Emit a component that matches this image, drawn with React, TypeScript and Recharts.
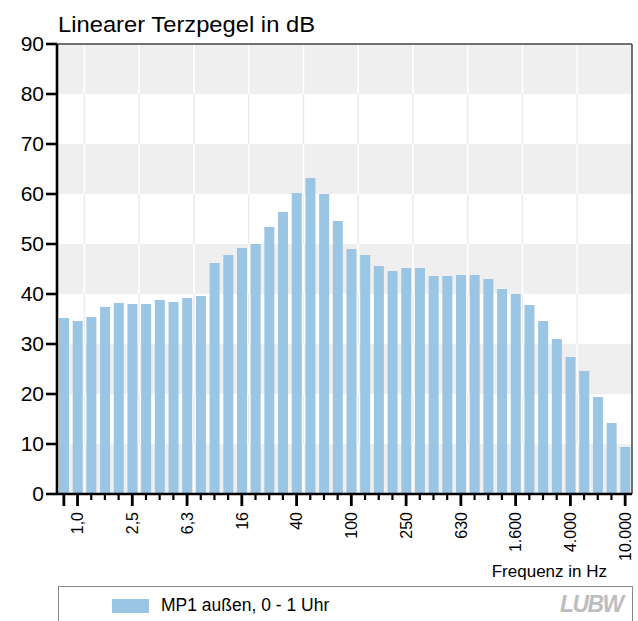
import React from 'react';
import { BarChart, Bar, XAxis, YAxis, ReferenceArea, ReferenceLine, Legend, Customized } from 'recharts';

const bands = [
  '0,8', '1,0', '1,25', '1,6', '2,0', '2,5', '3,15', '4,0', '5,0', '6,3', '8,0',
  '10', '12,5', '16', '20', '25', '31,5', '40', '50', '63', '80',
  '100', '125', '160', '200', '250', '315', '400', '500', '630', '800',
  '1.000', '1.250', '1.600', '2.000', '2.500', '3.150', '4.000', '5.000', '6.300', '8.000', '10.000',
];
const levels = [
  35.2, 34.6, 35.4, 37.4, 38.2, 38.0, 38.0, 38.8, 38.4, 39.2, 39.6,
  46.2, 47.8, 49.2, 50.0, 53.4, 56.4, 60.2, 63.2, 60.0, 54.6,
  49.0, 47.8, 45.6, 44.6, 45.2, 45.2, 43.6, 43.6, 43.8, 43.8,
  43.0, 41.0, 40.0, 37.8, 34.6, 31.0, 27.4, 24.6, 19.4, 14.2, 9.4,
];
const tickLabels = ['1,0', '2,5', '6,3', '16', '40', '100', '250', '630', '1.600', '4.000', '10.000'];
const yTicks = [0, 10, 20, 30, 40, 50, 60, 70, 80, 90];
const grayBands = [[0, 10], [20, 30], [40, 50], [60, 70], [80, 90]];
const whiteBands = [[10, 20], [30, 40], [50, 60], [70, 80]];
const seriesName = 'MP1 außen, 0 - 1 Uhr';
const title = 'Linearer Terzpegel in dB';
const xTitle = 'Frequenz in Hz';

const data = bands.map((b, i) => ({ i, band: b, level: levels[i] }));
const idx = bands.map((_, i) => i);
const labeledIdx = bands.map((b, i) => (tickLabels.includes(b) ? i : -1)).filter((i) => i >= 0);
const gridX = labeledIdx.slice(0, -1).map((i) => i + 0.5);
const lastX = bands.length - 0.5;

const FONT = '"Liberation Sans", Arial, sans-serif';
const BAR = '#9bc5e4';

const XTick = (props: any) => {
  const { x, y, payload } = props;
  const i = payload.value;
  const label = bands[i];
  const labeled = tickLabels.includes(label);
  const major = i === 0 || labeled;
  const ty = y + 18;
  return (
    <g>
      <line x1={x} x2={x} y1={y} y2={y + (major ? 12 : 6)} stroke="#000" strokeWidth={major ? 2.8 : 2.2} />
      {labeled && (
        <text x={x} y={ty} transform={`rotate(-90 ${x} ${ty})`} textAnchor="end" dy="0.36em"
          fontSize={16} fontFamily={FONT} fill="#000">{label}</text>
      )}
    </g>
  );
};

const LegendBox = (props: any) => {
  const p = (props.payload && props.payload[0]) || { value: seriesName, color: BAR };
  return (
    <div style={{ position: 'relative', width: 575, height: 45, border: '1px solid #8a8a8a', boxSizing: 'border-box', background: '#fff', fontFamily: FONT }}>
      <div style={{ position: 'absolute', left: 53, top: 12, width: 37, height: 14, background: p.color || BAR }} />
      <div style={{ position: 'absolute', left: 102, top: 8, fontSize: 17.5, lineHeight: '20px', color: '#000', whiteSpace: 'nowrap' }}>{p.value}</div>
      <div style={{ position: 'absolute', left: 501, top: 4, fontSize: 24, lineHeight: '26px', fontWeight: 'bold', fontStyle: 'italic', color: '#bdbdbd', letterSpacing: -1.5, transform: 'scaleX(0.95)', transformOrigin: 'left', whiteSpace: 'nowrap' }}>LUBW</div>
    </div>
  );
};

const Titles = () => (
  <g fontFamily={FONT} fill="#000">
    <text x={58} y={32} fontSize={21.5} textLength={257} lengthAdjust="spacingAndGlyphs">{title}</text>
    <text x={607} y={577} fontSize={17} textAnchor="end">{xTitle}</text>
  </g>
);

export default function App() {
  return (
    <div style={{ position: 'absolute', left: 0, top: 0, width: 638, height: 621, background: '#fff' }}>
      <BarChart width={638} height={621} data={data} margin={{ top: 44, right: 6, left: 0, bottom: 97 }}>
        {grayBands.map(([a, b]) => (
          <ReferenceArea key={`g${a}`} y1={a} y2={b} x1={-0.5} x2={lastX} fill="#efefef" fillOpacity={1} stroke="none" />
        ))}
        {gridX.map((x) => (
          <ReferenceLine key={`v${x}`} x={x} stroke="#fff" strokeWidth={1.6} />
        ))}
        {whiteBands.flatMap(([a, b]) =>
          gridX.map((x) => (
            <ReferenceLine key={`s${a}-${x}`} segment={[{ x, y: a }, { x, y: b }]} stroke="#ececec" strokeWidth={1.6} />
          ))
        )}
        <ReferenceLine y={90} stroke="#444" strokeWidth={1.5} />
        <ReferenceLine x={lastX} stroke="#444" strokeWidth={1.5} />
        <XAxis type="number" dataKey="i" domain={[-0.5, lastX]} ticks={idx} interval={0}
          tick={<XTick />} tickLine={false} tickSize={0} tickMargin={0} height={30}
          axisLine={{ stroke: '#000', strokeWidth: 2.6 }} allowDataOverflow />
        <YAxis type="number" domain={[0, 90]} ticks={yTicks} interval={0} width={57}
          tickSize={11} tickMargin={2} axisLine={{ stroke: '#000', strokeWidth: 2.6 }}
          tickLine={{ stroke: '#000', strokeWidth: 2.6 }}
          tick={{ fill: '#000', fontSize: 21, fontFamily: FONT }} />
        <Bar dataKey="level" name={seriesName} fill={BAR} barSize={10} isAnimationActive={false} />
        <Legend layout="vertical" align="center" verticalAlign="middle" content={<LegendBox />}
          wrapperStyle={{ left: 58, top: 586, width: 575, height: 45 }} />
        <Customized component={Titles} />
      </BarChart>
    </div>
  );
}
